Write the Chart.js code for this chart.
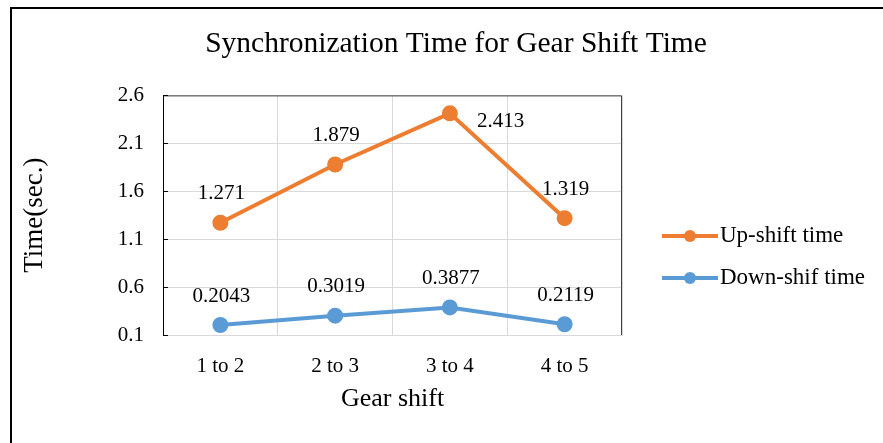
<!DOCTYPE html>
<html>
<head>
<meta charset="utf-8">
<script src="https://cdn.jsdelivr.net/npm/chart.js@4/dist/chart.umd.min.js"></script>
<style>
  body { margin: 0; background: #fff; }
  #wrap { position: relative; width: 883px; height: 443px; }
  #frame { position: absolute; left: 10px; top: 7px; right: -10px; bottom: -10px;
           border-left: 2px solid #000; border-top: 2px solid #000; pointer-events: none; }
</style>
</head>
<body>
<div id="wrap">
  <canvas id="myLineChart" width="883" height="443"></canvas>
  <div id="frame"></div>
</div>
<script>
const labels = ["1 to 2", "2 to 3", "3 to 4", "4 to 5"];
const upShift = [1.271, 1.879, 2.413, 1.319];
const downShift = [0.2043, 0.3019, 0.3877, 0.2119];
const seriesNames = ["Up-shift time", "Down-shif time"];
const yTicks = [0.1, 0.6, 1.1, 1.6, 2.1, 2.6];

const serif = "'Liberation Serif', 'Times New Roman', serif";

// draws the value labels, plot frame and the legend on the right
const extras = {
  id: "extras",
  afterDatasetsDraw(chart) {
    const ctx = chart.ctx;
    const area = chart.chartArea;
    const yScale = chart.scales.y;

    ctx.save();
    // frame: top and right edge dark
    ctx.strokeStyle = "#404040";
    ctx.lineWidth = 1;
    ctx.beginPath();
    ctx.moveTo(area.left, area.top + 0.5);
    ctx.lineTo(area.right - 0.5, area.top + 0.5);
    ctx.lineTo(area.right - 0.5, area.bottom);
    ctx.stroke();
    // little inward ticks on the y axis
    ctx.strokeStyle = "#000";
    yTicks.forEach((v) => {
      const y = Math.round(yScale.getPixelForValue(v)) + 0.5;
      ctx.beginPath();
      ctx.moveTo(area.left, y);
      ctx.lineTo(area.left + 5, y);
      ctx.stroke();
    });

    // value labels
    ctx.fillStyle = "#000";
    ctx.font = "21px " + serif;
    ctx.textBaseline = "middle";
    chart.data.datasets.forEach((ds, i) => {
      const meta = chart.getDatasetMeta(i);
      meta.data.forEach((pt, j) => {
        const txt = String(ds.data[j]);
        if (i === 0 && j === 2) {
          ctx.textAlign = "left";
          ctx.fillText(txt, pt.x + 27, pt.y + 8);
        } else {
          ctx.textAlign = "center";
          ctx.fillText(txt, pt.x + 1, pt.y - 29);
        }
      });
    });

    // legend
    const lx = 662, ly = [236, 278];
    ctx.font = "23px " + serif;
    chart.data.datasets.forEach((ds, i) => {
      const y = ly[i];
      ctx.strokeStyle = ds.borderColor;
      ctx.lineWidth = 4;
      ctx.beginPath();
      ctx.moveTo(lx, y);
      ctx.lineTo(lx + 56, y);
      ctx.stroke();
      ctx.fillStyle = ds.borderColor;
      ctx.beginPath();
      ctx.arc(lx + 28, y, 6, 0, Math.PI * 2);
      ctx.fill();
      ctx.fillStyle = "#000";
      ctx.textAlign = "left";
      ctx.fillText(ds.label, lx + 58, y);
    });
    ctx.restore();
  }
};

const ctx = document.getElementById("myLineChart");

new Chart(ctx, {
  type: "line",
  data: {
    labels: labels,
    datasets: [
      {
        label: seriesNames[0],
        data: upShift,
        borderColor: "#ED7D31",
        backgroundColor: "#ED7D31",
        borderWidth: 4,
        pointRadius: 6,
        pointHoverRadius: 6,
      },
      {
        label: seriesNames[1],
        data: downShift,
        borderColor: "#5B9BD5",
        backgroundColor: "#5B9BD5",
        borderWidth: 4,
        pointRadius: 6,
        pointHoverRadius: 6,
      },
    ],
  },
  options: {
    responsive: false,
    animation: false,
    layout: { padding: { left: 29, right: 0, top: 0, bottom: 28 } },
    plugins: {
      legend: { display: false },
      tooltip: { enabled: false },
      title: {
        display: true,
        text: "Synchronization Time for Gear Shift Time",
        color: "#000",
        font: { family: serif, size: 29.5, weight: "normal" },
        padding: { top: 27, bottom: 33 },
      },
    },
    scales: {
      x: {
        offset: true,
        grid: { offset: true, color: "#d9d9d9", drawTicks: false },
        border: { color: "#d9d9d9" },
        ticks: { color: "#000", font: { family: serif, size: 21 }, padding: 19, maxRotation: 0 },
        afterFit: (scale) => {
          scale.height = 80;
        },
        title: {
          display: true,
          text: "Gear shift",
          color: "#000",
          font: { family: serif, size: 26 },
          padding: { top: 6, bottom: 0 },
        },
      },
      y: {
        min: 0.1,
        max: 2.6,
        afterBuildTicks: (scale) => {
          scale.ticks = yTicks.map((v) => ({ value: v }));
        },
        afterFit: (scale) => {
          scale.width = 134;
        },
        grid: { color: "#d9d9d9", drawTicks: false },
        border: { color: "#000" },
        ticks: {
          color: "#000",
          font: { family: serif, size: 21 },
          padding: 19,
          callback: (v) => v.toFixed(1),
        },
        title: {
          display: true,
          text: "Time(sec.)",
          color: "#000",
          font: { family: serif, size: 27 },
          padding: { top: -10, bottom: 0 },
        },
      },
      // empty axis that keeps room on the right for the legend
      side: {
        type: "linear",
        position: "right",
        display: true,
        grid: { display: false, drawTicks: false },
        border: { display: false },
        ticks: { display: false },
        afterFit: (scale) => {
          scale.width = 261;
        },
      },
    },
  },
  plugins: [extras],
});
</script>
</body>
</html>
